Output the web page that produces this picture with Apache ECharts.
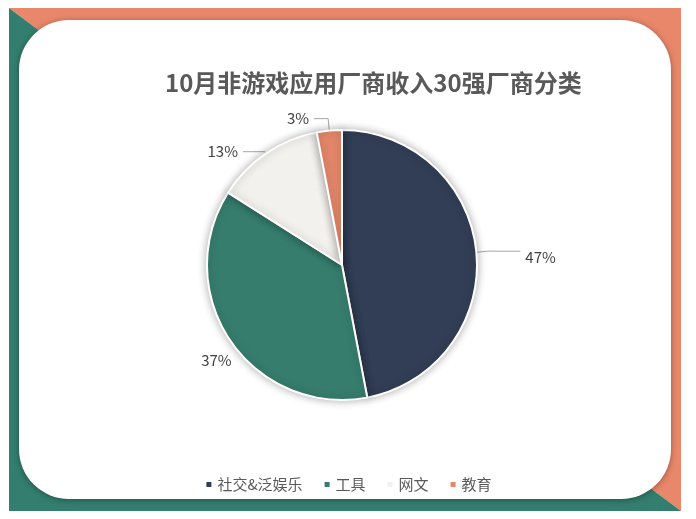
<!DOCTYPE html>
<html><head><meta charset="utf-8">
<script src="https://cdn.jsdelivr.net/npm/echarts@6/dist/echarts.min.js"></script>
<style>html,body{margin:0;padding:0;background:#fff;}#c{width:696px;height:519px;}</style>
</head><body><div id="c"></div>
<script>
const titleText = '10月非游戏应用厂商收入30强厂商分类';
const categories = ['社交&泛娱乐', '工具', '网文', '教育'];
const values = [47, 37, 13, 3];
const colors = ['#323E56', '#367D6E', '#F3F1EE', '#E3866A'];

const chart = echarts.init(document.getElementById('c'));
const FONT = '"Noto Sans CJK SC", "Microsoft YaHei", sans-serif';
const lineCfg = [
  { length: 12, length2: 32, show: true },
  { length: 2, length2: 2, show: false },
  { length: 2, length2: 22, show: true },
  { length: 12, length2: 14, show: true }
];
chart.setOption({
  animation: false,
  title: {
    text: titleText, left: 160, top: 66,
    textStyle: { fontFamily: FONT, fontSize: 24, fontWeight: 'bold', color: '#595959' }
  },
  legend: {
    data: categories, bottom: 22, left: 'center', icon: 'rect',
    itemWidth: 7, itemHeight: 7, itemGap: 20,
    textStyle: { fontFamily: FONT, fontSize: 15, color: '#595959' }
  },
  graphic: [
    { type: 'polygon', z: -10, shape: { points: [[9,8],[681,8],[681,511]] }, style: { fill: '#E8876A' } },
    { type: 'polygon', z: -10, shape: { points: [[9,8],[9,511],[681,511]] }, style: { fill: '#337E6E' } },
    { type: 'rect', z: -9, shape: { x: 19, y: 20, width: 652, height: 479, r: 50 },
      style: { fill: '#ffffff', shadowBlur: 6, shadowColor: 'rgba(0,0,0,0.35)', shadowOffsetX: 0, shadowOffsetY: 1 } }
  ],
  series: [{
    type: 'pie', center: [342, 265], radius: 135, startAngle: 90, clockwise: true,
    data: categories.map((n, i) => ({
      name: n, value: values[i], itemStyle: { color: colors[i] },
      labelLine: lineCfg[i]
    })),
    itemStyle: { borderColor: '#fff', borderWidth: 2, shadowBlur: 8, shadowColor: 'rgba(0,0,0,0.3)' },
    label: { formatter: '{c}%', fontFamily: FONT, fontSize: 15, color: '#404040' },
    labelLine: { lineStyle: { color: '#A6A6A6', width: 1 } },
    labelLayout: function (p) {
      if (p.dataIndex === 1) return { dx: 10, dy: 18 };
      if (p.dataIndex === 0) return { dy: 6 };
      return {};
    },
    emphasis: { disabled: true }
  }]
});
</script></body></html>
